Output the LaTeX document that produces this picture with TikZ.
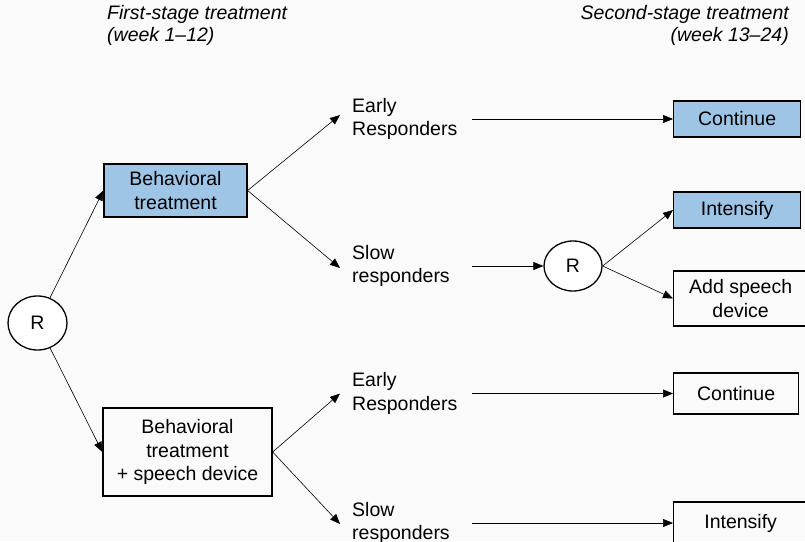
\documentclass[tikz,border=0pt]{standalone}
\usepackage{fontspec}
\setmainfont{Liberation Sans}
\usetikzlibrary{shapes.geometric,arrows.meta}
\definecolor{boxblue}{RGB}{158,196,230}
\definecolor{bggray}{RGB}{250,250,250}
\tikzset{
  txt/.style={font=\fontsize{19.5}{23.5}\selectfont, inner sep=0pt},
  box/.style={txt, draw=black, line width=1.3pt, align=center},
  bluebox/.style={box, fill=boxblue},
  rcirc/.style={txt, ellipse, draw=black, line width=1.3pt, fill=white},
  lbl/.style={txt, anchor=west, align=left, text width=120pt},
  ttl/.style={txt, font=\fontsize{19.5}{22.5}\selectfont\itshape},
  arr/.style={-{Triangle[length=10pt,width=8pt]}, line width=0.6pt, black}
}
\begin{document}
\begin{tikzpicture}[x=1pt,y=-1pt]
\useasboundingbox (0,0) rectangle (805,541);
\fill[bggray] (0,0) rectangle (805,541);
\clip (0,0) rectangle (805,541);

% titles
\node[ttl, anchor=north west, align=left] (tl) at (107,5) {First-stage treatment\\(week 1--12)};
\node[ttl, anchor=north east, align=right] (tr) at (789,5) {Second-stage treatment\\(week 13--24)};

% first stage
\node[rcirc, minimum width=59pt, minimum height=54pt] (R1) at (37.5,323) {R};
\node[bluebox, minimum width=143pt, minimum height=53pt] (b1) at (175.5,190.5) {Behavioral\\treatment};
\node[box, minimum width=169pt, minimum height=88pt] (b2) at (187.5,452) {Behavioral\\treatment\\+ speech device};

% responder labels
\node[lbl] (t1) at (352,119) {Early\\Responders};
\node[lbl] (t2) at (352,266) {Slow\\responders};
\node[lbl] (t3) at (352,393.5) {Early\\Responders};
\node[lbl] (t4) at (352,523) {Slow\\responders};

% second stage
\node[bluebox, anchor=west, minimum width=127pt, minimum height=36pt] (c1) at (673,119) {Continue};
\node[rcirc, minimum width=58pt, minimum height=50pt] (R2) at (573,266) {R};
\node[bluebox, anchor=west, minimum width=127pt, minimum height=36pt] (i1) at (673,210) {Intensify};
\node[box, anchor=west, minimum width=134pt, minimum height=55pt] (a1) at (673,298.5) {Add speech\\device};
\node[box, anchor=west, minimum width=125pt, minimum height=41pt] (c2) at (673,393.5) {Continue};
\node[box, anchor=west, minimum width=134pt, minimum height=42pt] (i2) at (673,523) {Intensify};

% connectors
\draw[arr] (R1) -- (b1.west);
\draw[arr] (R1) -- (b2.west);
\draw[arr] (b1.east) -- ([xshift=-12pt,yshift=4pt]t1.west);
\draw[arr] (b1.east) -- ([xshift=-12pt,yshift=-2pt]t2.west);
\draw[arr] (b2.east) -- ([xshift=-12pt]t3.west);
\draw[arr] (b2.east) -- ([xshift=-12pt,yshift=-1pt]t4.west);
\draw[arr] (t1.east) -- (c1.west);
\draw[arr] (t2.east) -- (R2.west);
\draw[arr] (t3.east) -- (c2.west);
\draw[arr] (t4.east) -- (i2.west);
\draw[arr] (R2.east) -- (i1.west);
\draw[arr] (R2.east) -- (a1.west);
\end{tikzpicture}
\end{document}
